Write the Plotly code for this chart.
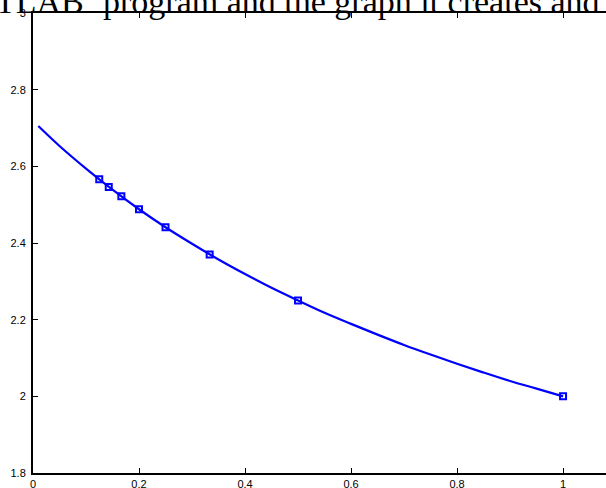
import plotly.graph_objects as go

# curve
curve_x = [0.01, 0.05, 0.10, 0.15, 0.20, 0.25, 0.30, 0.35, 0.40, 0.45, 0.50,
           0.55, 0.60, 0.65, 0.70, 0.75, 0.80, 0.85, 0.90, 0.95, 1.00]
curve_y = [2.705, 2.653, 2.594, 2.539, 2.488, 2.441, 2.398, 2.357, 2.319, 2.283, 2.250,
           2.218, 2.189, 2.161, 2.134, 2.109, 2.085, 2.062, 2.040, 2.020, 2.000]

# marked points
pts_x = [0.125, 0.1429, 0.1667, 0.2, 0.25, 0.3333, 0.5, 1.0]
pts_y = [2.566, 2.546, 2.522, 2.488, 2.441, 2.370, 2.250, 2.000]

x_ticks = [0, 0.2, 0.4, 0.6, 0.8, 1]
x_labels = ["0", "0.2", "0.4", "0.6", "0.8", "1"]
y_ticks = [1.8, 2, 2.2, 2.4, 2.6, 2.8, 3]
y_labels = ["1.8", "2", "2.2", "2.4", "2.6", "2.8", "3"]

W, H = 606, 488
L, T, B = 33, 13, 15

fig = go.Figure()
fig.add_trace(go.Scatter(x=curve_x, y=curve_y, mode="lines",
                         line=dict(color="#0000ff", width=2.2, shape="spline"),
                         showlegend=False, hoverinfo="skip"))
fig.add_trace(go.Scatter(x=pts_x, y=pts_y, mode="markers",
                         marker=dict(symbol="square-open", size=6, color="#0000ff",
                                     line=dict(color="#0000ff", width=2)),
                         showlegend=False))

fig.update_layout(
    width=W, height=H,
    margin=dict(l=L, r=0, t=T, b=B, autoexpand=False),
    paper_bgcolor="white", plot_bgcolor="white",
    font=dict(family="Liberation Sans, Arial, sans-serif", size=11, color="black"),
    xaxis=dict(range=[0, 1.081], tickvals=x_ticks, ticktext=x_labels,
               ticks="inside", ticklen=5, tickcolor="black", tickwidth=1,
               showline=True, linecolor="black", linewidth=2, mirror="ticks",
               showgrid=False, zeroline=False, ticklabelstandoff=0, automargin=False),
    yaxis=dict(range=[1.8, 3.0], tickvals=y_ticks, ticktext=y_labels,
               ticks="inside", ticklen=5, tickcolor="black", tickwidth=1,
               showline=True, linecolor="black", linewidth=2,
               showgrid=False, zeroline=False, ticklabelstandoff=3, automargin=False),
)

title_font = dict(family="Liberation Serif, Times New Roman, serif", size=34, color="black")
fig.add_annotation(text="MATLAB", xref="paper", yref="paper",
                   x=(86 - L) / (W - L), y=1,
                   xanchor="right", yanchor="bottom", showarrow=False,
                   font=title_font, yshift=-9)
fig.add_annotation(text="program and the graph it creates and the", xref="paper", yref="paper",
                   x=(101 - L) / (W - L), y=1,
                   xanchor="left", yanchor="bottom", showarrow=False,
                   font=title_font, yshift=-9)

fig.write_html("out.html", config={"displayModeBar": False},
               post_script="document.body.style.margin='0';document.body.style.overflow='hidden';")
